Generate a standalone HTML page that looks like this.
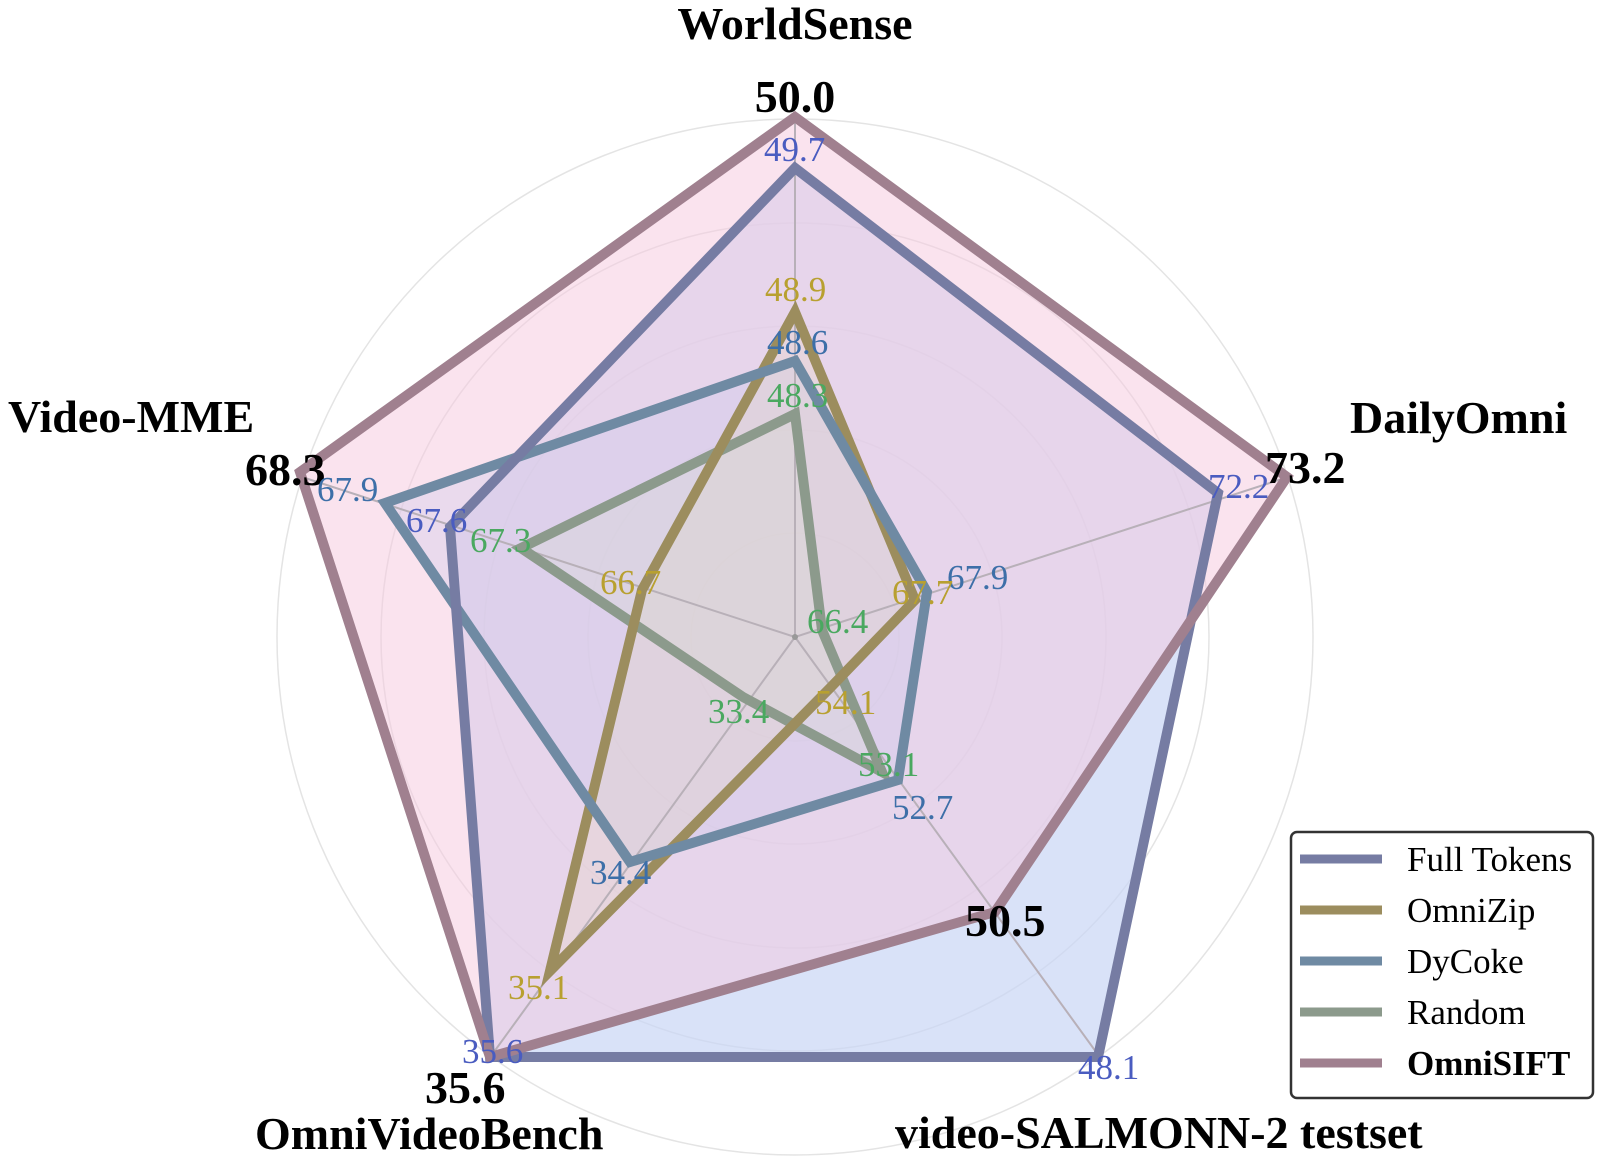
<!DOCTYPE html>
<html><head><meta charset="utf-8"><style>
html,body{margin:0;padding:0;background:#fff;}
svg{display:block;}
text{font-family:"Liberation Serif",serif;}
.ax{font-weight:bold;font-size:46px;fill:#000;}
.v{font-size:35px;}
</style></head><body>
<svg width="1600" height="1166" viewBox="0 0 1600 1166" xmlns="http://www.w3.org/2000/svg">
<rect width="1600" height="1166" fill="#fff"/>
<g fill="none" stroke="#e4e4e4" stroke-width="1.5">
<circle cx="795" cy="637" r="104"/>
<circle cx="795" cy="637" r="207"/>
<circle cx="795" cy="637" r="311"/>
<circle cx="795" cy="637" r="414"/>
<circle cx="795" cy="637" r="518"/>
</g>
<polygon points="795,168 1218,493 1098,1057 490,1057 450,527" fill="#c9d6f5" fill-opacity="0.7"/>
<polygon points="795,117 1287,477 995,912 490,1057 300,472" fill="#f5c8de" fill-opacity="0.5"/>
<polygon points="795,361 927,592 898,780 630,862 385,503" fill="#c8c8ea" fill-opacity="0.3"/>
<polygon points="795,312 915,600 831,687 550,971 642,590" fill="#e8d8b8" fill-opacity="0.25"/>
<polygon points="795,414 822,630 882,772 743,697 521,548" fill="#d8dcd0" fill-opacity="0.3"/>
<g stroke="#b8b0b8" stroke-width="2">
<line x1="795" y1="637" x2="795" y2="119"/>
<line x1="795" y1="637" x2="1288" y2="477"/>
<line x1="795" y1="637" x2="1099" y2="1056"/>
<line x1="795" y1="637" x2="491" y2="1056"/>
<line x1="795" y1="637" x2="302" y2="477"/>
</g>
<circle cx="795" cy="637" r="3" fill="#999"/>
<g fill="none" stroke-width="10" stroke-linejoin="miter">
<polygon points="795,414 822,630 882,772 743,697 521,548" stroke="#8c9a8c"/>
<polygon points="795,312 915,600 831,687 550,971 642,590" stroke="#9c8d5e"/>
<polygon points="795,361 927,592 898,780 630,862 385,503" stroke="#6f8aa3"/>
<polygon points="795,168 1218,493 1098,1057 490,1057 450,527" stroke="#767ca3"/>
<polygon points="795,117 1287,477 995,912 490,1057 300,472" stroke="#a0808f"/>
</g>
<text class="ax" x="795" y="39" text-anchor="middle">WorldSense</text>
<text class="ax" x="795" y="112" text-anchor="middle">50.0</text>
<text class="ax" x="1350" y="433">DailyOmni</text>
<text class="ax" x="1265" y="483">73.2</text>
<text class="ax" x="8" y="432">Video-MME</text>
<text class="ax" x="245" y="485">68.3</text>
<text class="ax" x="425" y="1103">35.6</text>
<text class="ax" x="255" y="1149">OmniVideoBench</text>
<text class="ax" x="965" y="936">50.5</text>
<text class="ax" x="895" y="1148">video-SALMONN-2 testset</text>
<g class="v">
<text x="764" y="161" fill="#4a5cc0">49.7</text>
<text x="765" y="301" fill="#b8a030">48.9</text>
<text x="767" y="354" fill="#3d6fa8">48.6</text>
<text x="767" y="407" fill="#4aa860">48.3</text>
<text x="1208" y="498" fill="#4a5cc0">72.2</text>
<text x="317" y="501" fill="#3d6fa8">67.9</text>
<text x="406" y="532" fill="#4a5cc0">67.6</text>
<text x="470" y="552" fill="#4aa860">67.3</text>
<text x="600" y="594" fill="#b8a030">66.7</text>
<text x="947" y="589" fill="#3d6fa8">67.9</text>
<text x="892" y="604" fill="#b8a030">67.7</text>
<text x="807" y="633" fill="#4aa860">66.4</text>
<text x="815" y="714" fill="#b8a030">54.1</text>
<text x="708" y="723" fill="#4aa860">33.4</text>
<text x="858" y="776" fill="#4aa860">53.1</text>
<text x="892" y="819" fill="#3d6fa8">52.7</text>
<text x="590" y="884" fill="#3d6fa8">34.4</text>
<text x="508" y="999" fill="#b8a030">35.1</text>
<text x="462" y="1063" fill="#4a5cc0">35.6</text>
<text x="1078" y="1079" fill="#4a5cc0">48.1</text>
</g>
<rect x="1291" y="832" width="302" height="266" rx="6" fill="#fff" stroke="#333" stroke-width="2.5"/>
<g stroke-width="9">
<line x1="1300" y1="859" x2="1382" y2="859" stroke="#767ca3"/>
<line x1="1300" y1="910" x2="1382" y2="910" stroke="#9c8d5e"/>
<line x1="1300" y1="961" x2="1382" y2="961" stroke="#6f8aa3"/>
<line x1="1300" y1="1012" x2="1382" y2="1012" stroke="#8c9a8c"/>
<line x1="1300" y1="1063" x2="1382" y2="1063" stroke="#a0808f"/>
</g>
<g font-size="35" fill="#000">
<text x="1407" y="871">Full Tokens</text>
<text x="1407" y="922">OmniZip</text>
<text x="1407" y="973">DyCoke</text>
<text x="1407" y="1024">Random</text>
<text x="1407" y="1075" font-weight="bold">OmniSIFT</text>
</g>
</svg>
</body></html>
